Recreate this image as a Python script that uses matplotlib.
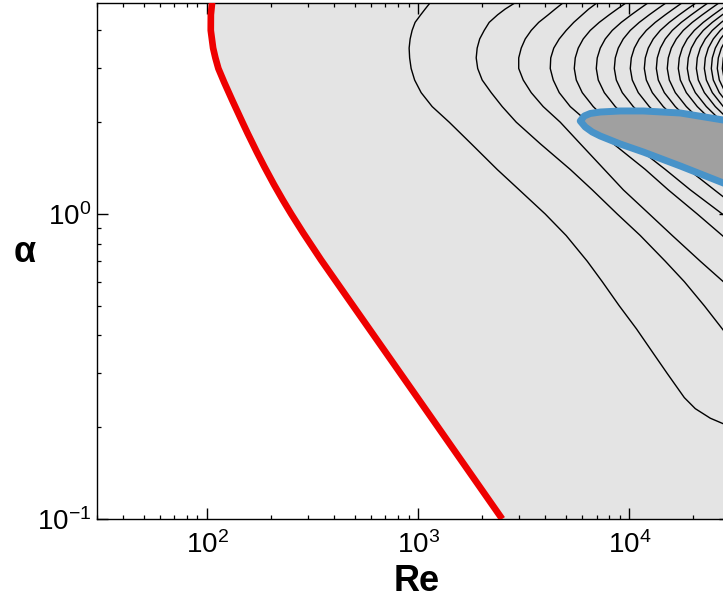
import numpy as np
import matplotlib
matplotlib.use("Agg")
import matplotlib.pyplot as plt
from matplotlib.ticker import LogLocator, LogFormatterMathtext, NullFormatter

plt.rcParams['font.family'] = ['Liberation Sans', 'DejaVu Sans']
plt.rcParams['mathtext.fontset'] = 'custom'
plt.rcParams['mathtext.rm'] = 'Liberation Sans'
plt.rcParams['mathtext.it'] = 'Liberation Sans:italic'
plt.rcParams['mathtext.bf'] = 'Liberation Sans:bold'

nan = np.nan
N15 = [nan] * 15

# ---- red curve ----
red_alpha = [4.93, 4.5, 4.0, 3.5, 3.25, 3.0, 2.7, 2.36, 2.0, 1.84, 1.6, 1.43, 1.25, 1.11,
             1.0, 0.866, 0.707, 0.523, 0.245, 0.1]
red_re = [105.6, 104.2, 104.1, 106.8, 109.5, 113.1, 120.6, 131.6, 147.0, 155.6, 171.8,
          186.7, 207.3, 228.7, 250.4, 285.5, 346.7, 470, 1012, 2500]

# ---- black contour lines: Re read at each alpha row (nan = not drawn) ----
alpha_rows = [4.93, 4.7, 4.5, 4.25, 4.0, 3.75, 3.5, 3.25, 3.0, 2.75, 2.5, 2.25, 2.0,
              1.7, 1.4, 1.2, 1.0, 0.85, 0.7, 0.6, 0.5, 0.42, 0.35, 0.3, 0.25, 0.23, 0.214, 0.2]
re_c01 = [1140, 1079, 1028, 967, 936, 916, 906, 911, 926, 962, 1033, 1165, 1403,
          1783, 2367, 3011, 3998, 5024, 6324, 7447, 8965, 10820, 12970, 15130, 18230,
          20550, 24205, 30440]
re_c02 = [2883, 2584, 2379, 2170, 2055, 1956, 1903, 1883, 1914, 2010, 2218, 2501, 2915,
          3786, 5253, 6678, 8770, 11276, 14811, 18232, 22680, 27590, 33949,
          nan, nan, nan, nan, nan]
re_c03 = [4865, 4459, 4132, 3724, 3432, 3215, 3077, 2994, 2994, 3145, 3432, 3911, 4710,
          5858, 7613, 9372, 12437, 15987, 21703, 27887, 37450,
          nan, nan, nan, nan, nan, nan, nan]
re_c04 = [7050, 6426, 5987, 5458, 5027, 4658, 4388, 4246, 4223, 4363, 4658, 5253, 6391,
          8396, 11907, 15302, 20996, 27590, 38274,
          nan, nan, nan, nan, nan, nan, nan, nan, nan]
re_c05 = [9681, 8770, 8038, 7207, 6534, 6051, 5731, 5547, 5489, 5610, 5987, 6750, 8038,
          10332, 14811, 19459, 27590, 38274,
          nan, nan, nan, nan, nan, nan, nan, nan, nan, nan]
re_c06 = [12302, 11152, 10221, 9165, 8307, 7695, 7287, 7050, 6978, 7129, 7615, 8583, 10221,
          13280, 19035, 25294, 35460,
          nan, nan, nan, nan, nan, nan, nan, nan, nan, nan, nan]
re_c07 = [14980, 13570, 12437, 11152, 10110, 9364, 8868, 8583, 8494, 8681, 9264, 10444, 12437] + N15
re_c08 = [17831, 16159, 14811, 13280, 12043, 11152, 10565, 10221, 10110, 10332, 11030, 12437, 14811] + N15
re_c09 = [20782, 18825, 17254, 15471, 14026, 12991, 12302, 11907, 11783, 12043, 12853, 14489, 17254] + N15
re_c10 = [23678, 21463, 19673, 17639, 15987, 14811, 14026, 13570, 13431, 13720, 14657, 16519, 19673] + N15
re_c11 = [26698, 24205, 22180, 19887, 18023, 16707, 15815, 15302, 15134, 15471, 16519, 18633, 22180] + N15
re_c12 = [30108, 27293, 25004, 22419, 20335, 18825, 17831, 17254, 17067, 17447, 18633, 20996, 25004] + N15
re_c13 = [33209, 30108, 27590, 24738, 22419, 20782, 19673, 19035, 18825, 19244, 20549, 23179, 27590] + N15
re_c14 = [36636, 33209, 30439, 27293, 24738, 22918, 21703, 20996, 20782, 21230, 22680, 25560, 30439] + N15
re_c15 = [39997, 36233, 33209, 29777, 26996, 25004, 23678, 22918, 22680, 23179, 24738, 27887, 33209] + N15
re_c16 = [43148, 39135, 35863, 32155, 29129, 26996, 25560, 24738, 24471, 25004, 26698, 30108, 35863] + N15
re_c17 = [46072, 41770, 38274, 34319, 31102, 28832, 27293, 26408, 26117, 26698, 28508, 32155, 38274] + N15
re_c18 = [48676, 44109, 40409, 36233, 32848, 30439, 28832, 27887, 27590, 28211, 30108, 33949, 40409] + N15
contours = [re_c01, re_c02, re_c03, re_c04, re_c05, re_c06, re_c07, re_c08, re_c09,
            re_c10, re_c11, re_c12, re_c13, re_c14, re_c15, re_c16, re_c17, re_c18]

# ---- linear-instability region (blue outline, dark fill) ----
blue_re = [5858, 6122, 6534, 7287, 9065, 11650, 17447, 27890, 41770,
           41770, 27890, 17447, 11650, 9065, 7287, 6678, 6186, 5858]
blue_alpha = [2.018, 2.096, 2.136, 2.160, 2.177, 2.177, 2.144, 2.033, 1.958,
              1.128, 1.264, 1.437, 1.597, 1.696, 1.802, 1.857, 1.929, 2.018]

fig = plt.figure(figsize=(7.23, 6.0), dpi=100)
ax = fig.add_axes([96.7 / 723, 81 / 600, (730 - 96.7) / 723, (519 - 2.7) / 600])
ax.set_xscale('log')
ax.set_yscale('log')
ax.set_xlim(30, 3e4)
ax.set_ylim(0.1, 4.93)

ax.fill_betweenx(red_alpha, red_re, 1e6, color='#e4e4e4', lw=0, zorder=1)
for c in contours:
    ax.plot(c, alpha_rows, color='k', lw=1.0, zorder=2, solid_joinstyle='round')
ax.fill(blue_re, blue_alpha, facecolor='#a0a0a0', edgecolor='#4893c9', lw=5,
        joinstyle='round', zorder=3)
ax.plot(red_re, red_alpha, color='#ee0000', lw=4.8, zorder=4, solid_capstyle='butt',
        solid_joinstyle='round')

for a in (ax.xaxis, ax.yaxis):
    a.set_major_locator(LogLocator(base=10))
    a.set_minor_locator(LogLocator(base=10, subs=np.arange(2, 10)))
    a.set_major_formatter(LogFormatterMathtext())
    a.set_minor_formatter(NullFormatter())
ax.tick_params(which='both', direction='in', top=True, right=True, labelsize=20)
ax.tick_params(which='major', length=8, width=1.0)
ax.tick_params(which='minor', length=3, width=0.9)
ax.tick_params(axis='x', which='major', pad=9)
ax.tick_params(axis='y', which='major', pad=4)
for s in ax.spines.values():
    s.set_linewidth(1.0)

fig.text(417 / 723, 1 - 591 / 600, 'Re', ha='center', va='baseline', fontsize=26, fontweight='bold')
fig.text(25 / 723, 1 - 262 / 600, 'α', ha='center', va='baseline', fontsize=26, fontweight='bold')

fig.savefig('out.png', dpi=100)
